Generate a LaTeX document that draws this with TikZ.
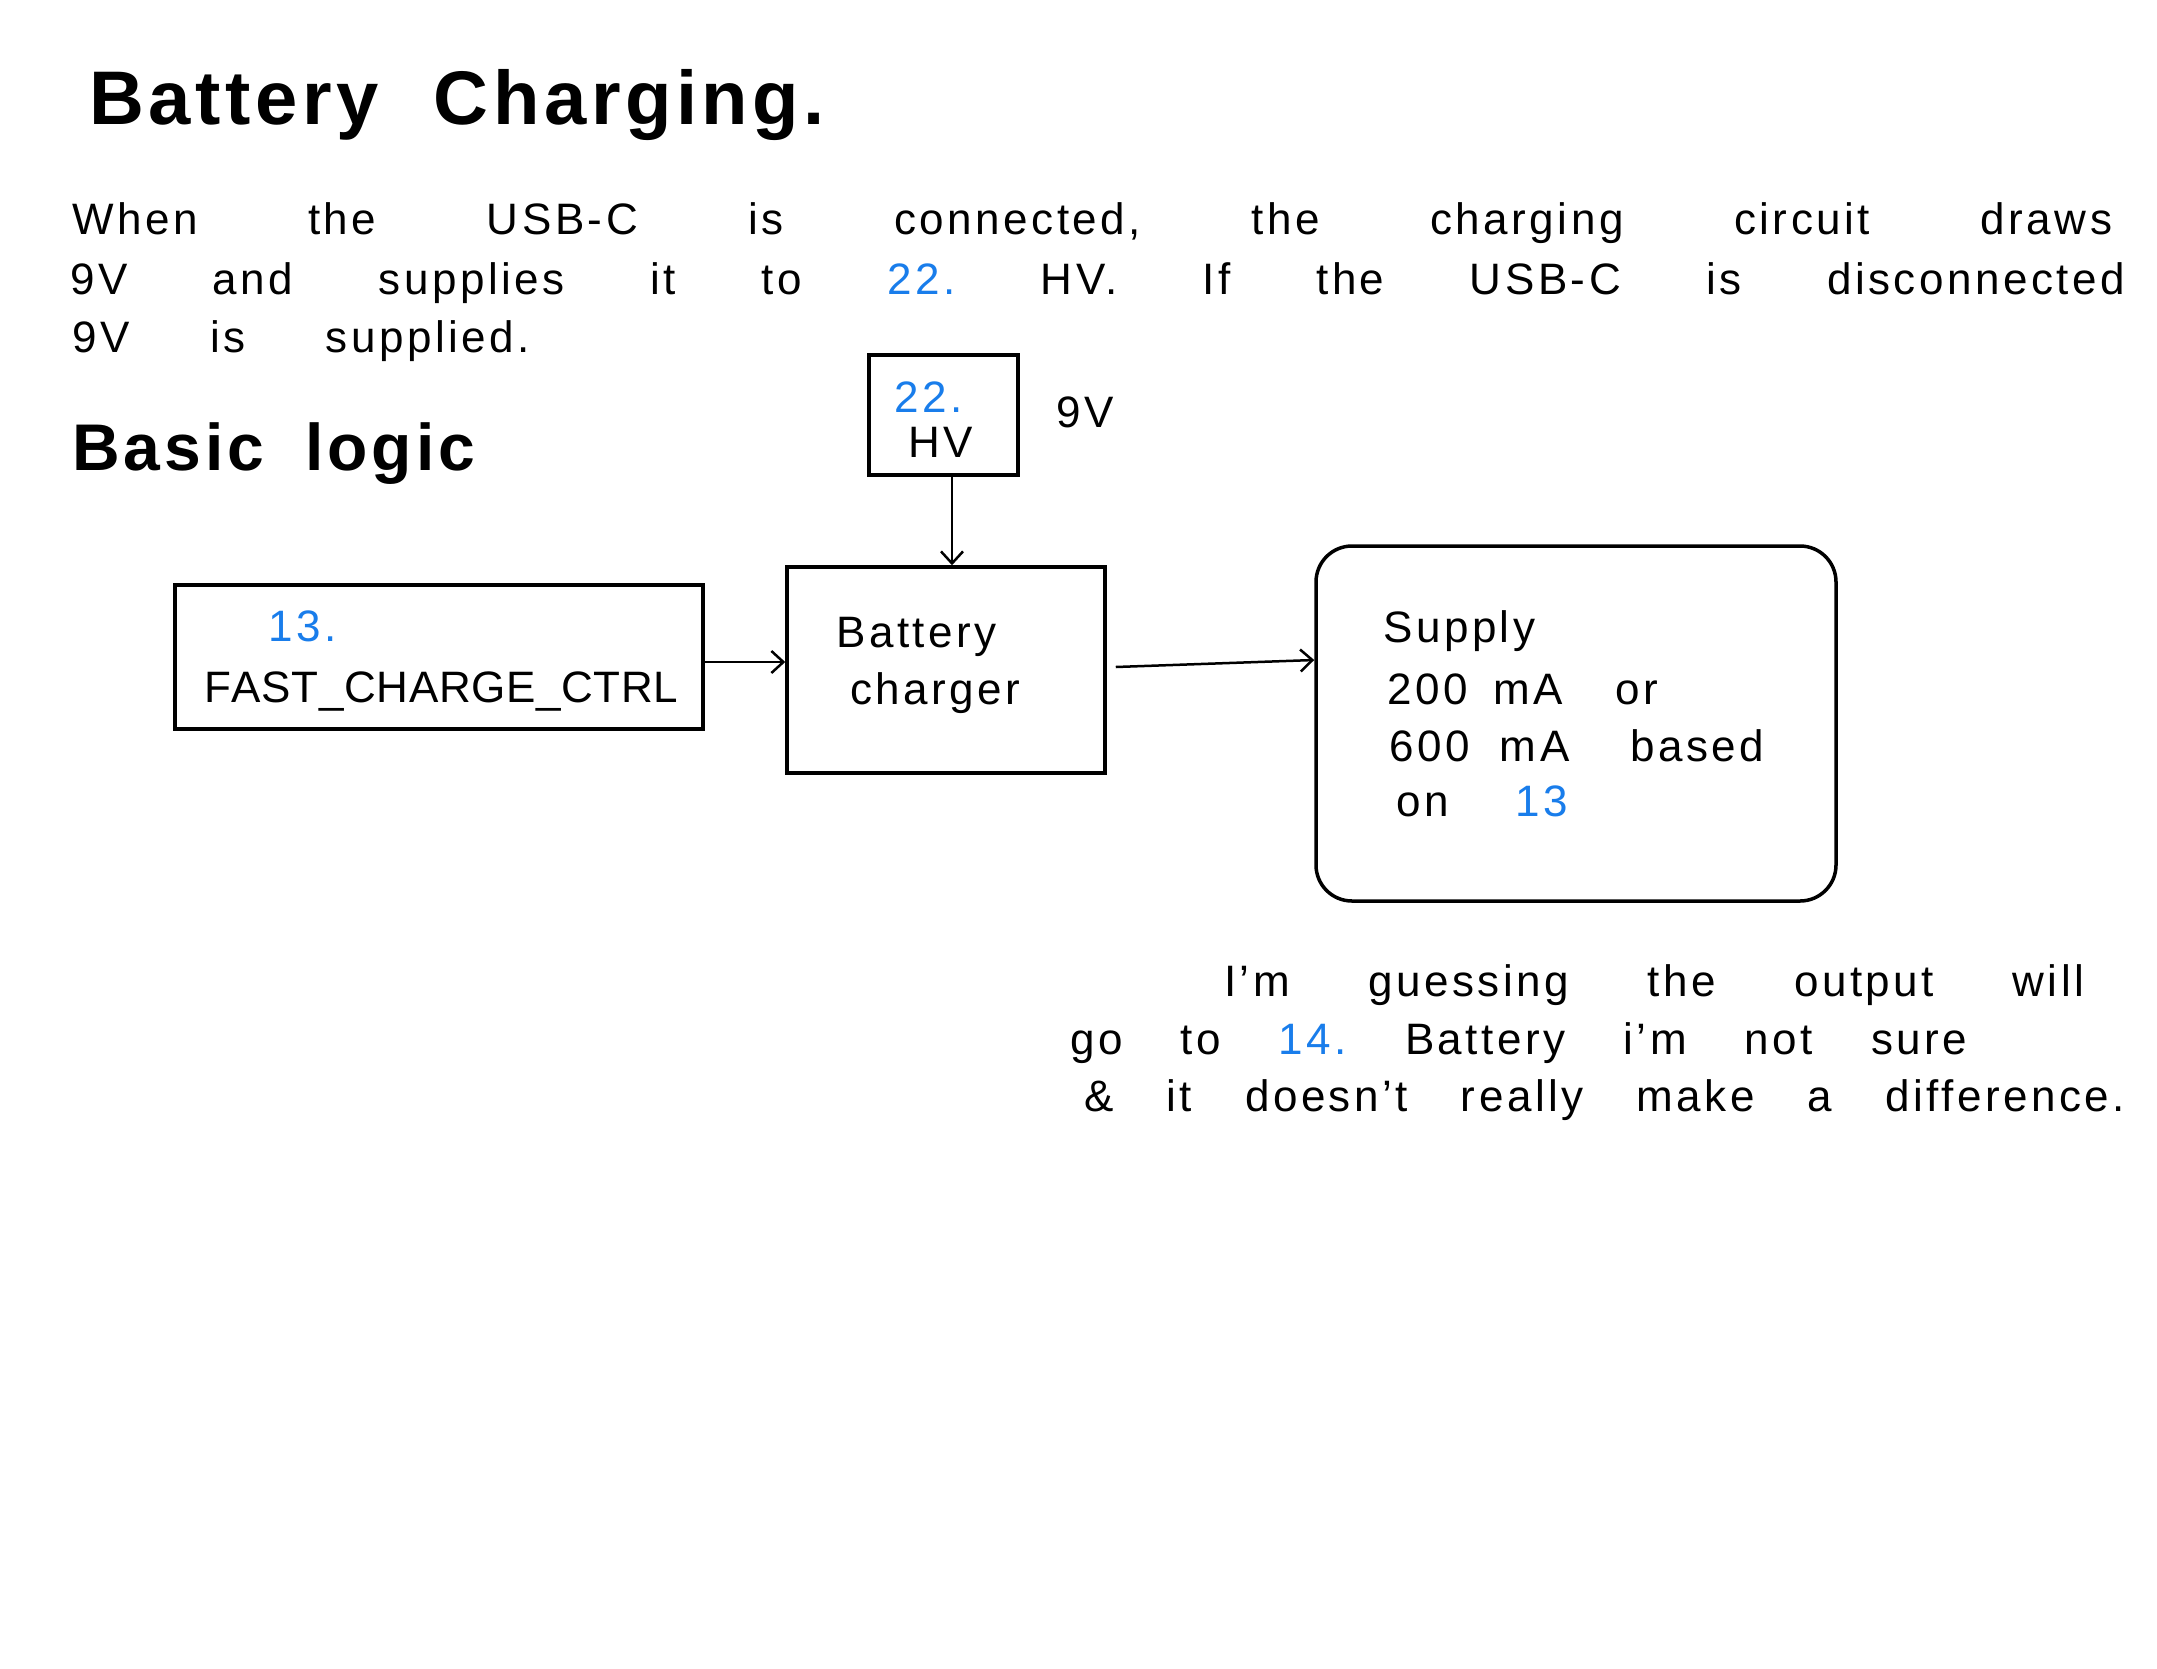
\documentclass[tikz,border=0pt]{standalone}
\usepackage{fontspec}
\setmainfont{Liberation Sans}
\usetikzlibrary{arrows.meta}
\definecolor{handblue}{RGB}{25,125,235}
\frenchspacing
\newcommand{\hwtext}{\fontsize{44}{52}\selectfont\addfontfeature{LetterSpace=8}}
\newcommand{\hwhead}[1]{\fontsize{#1}{#1}\selectfont\bfseries\addfontfeature{LetterSpace=6}}
\begin{document}
\begin{tikzpicture}[x=1pt,y=-1pt,
  txt/.style={anchor=base west,inner sep=0pt,font=\hwtext},
  hbox/.style={draw,line width=3.5pt,rectangle,inner sep=0pt},
  arr/.style={line width=2.5pt,-{Straight Barb[length=12pt,width=22pt,line width=2.5pt]}}]
\fill[white] (0,0) rectangle (2157,1668);
\useasboundingbox (0,0) rectangle (2157,1668);

% Headings
\node[anchor=base west,inner sep=0pt] (title) at (89,124) {\hwhead{76}\makebox[736pt][s]{Battery \ Charging.}};
\node[anchor=base west,inner sep=0pt] (basic) at (72,470) {\hwhead{66}\makebox[403pt][s]{Basic \ logic}};

% Paragraph
\node[txt] (p1) at (72,234) {\makebox[2040pt][s]{When the USB-C is connected, the charging circuit draws}};
\node[txt] (p2) at (70,294) {\makebox[2055pt][s]{9V and supplies it to \textcolor{handblue}{22.}\ HV. If the USB-C is disconnected}};
\node[txt] (p3) at (72,352) {\makebox[458pt][s]{9V is supplied.}};

% Boxes
\node[hbox,minimum width=149pt,minimum height=120pt] (hv) at (943.5,415) {};
\node[hbox,minimum width=528pt,minimum height=144pt] (fast) at (439,657) {};
\node[hbox,minimum width=318pt,minimum height=206pt] (charger) at (946,670) {};
\node[hbox,rounded corners=36pt,minimum width=520pt,minimum height=355pt] (supply) at (1576,723.5) {};

% Box texts
\node[txt,text=handblue] (hvnum) at (894,412) {22.};
\node[txt] (hvlbl) at (908,457) {HV};
\node[txt] (ninev) at (1056,427) {9V};

\node[txt,text=handblue] (fastnum) at (268,641) {13.};
\node[txt] (fastlbl) at (204,702) {\makebox[474pt][s]{F\hfill A\hfill S\hfill T\hfill \_\hfill C\hfill H\hfill A\hfill R\hfill G\hfill E\hfill \_\hfill C\hfill T\hfill R\hfill L}};

\node[txt] (chg1) at (836,647) {Battery};
\node[txt] (chg2) at (850,704) {charger};

\node[txt] (sup1) at (1383,642) {Supply};
\node[txt] (sup2) at (1387,704) {\makebox[271pt][s]{200 mA \ or}};
\node[txt] (sup3) at (1389,761) {\makebox[375pt][s]{600 mA \ based}};
\node[txt] (sup4) at (1396,816) {\makebox[172pt][s]{on \ \textcolor{handblue}{13}}};

% Note
\node[txt] (n1) at (1224,996) {\makebox[860pt][s]{I'm guessing the output will}};
\node[txt] (n2) at (1070,1054) {\makebox[897pt][s]{go to \textcolor{handblue}{14.}\ Battery i'm not sure}};
\node[txt] (n3) at (1084,1111) {\makebox[1041pt][s]{\& it doesn't really make a difference.}};

% Connectors
\draw[arr] ([xshift=8.5pt]hv.south) -- ([xshift=6pt]charger.north);
\draw[arr] ([yshift=-5pt]fast.east) -- ([yshift=8pt]charger.west);
\draw[arr] ([xshift=9pt,yshift=3pt]charger.east) -- ([yshift=63.5pt]supply.west);
\end{tikzpicture}
\end{document}
